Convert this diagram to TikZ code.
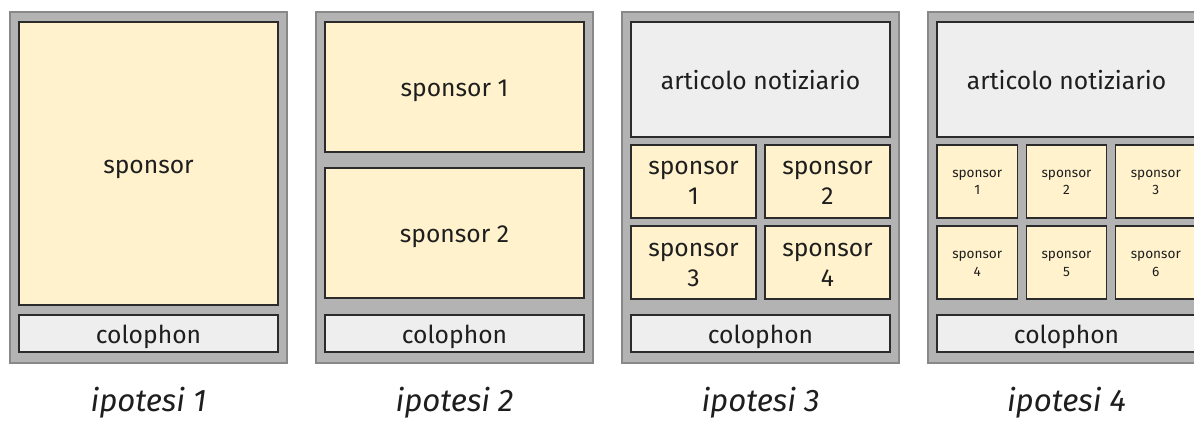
\documentclass[tikz,border=0pt]{standalone}
\usepackage{fontspec}
\setmainfont{Fira Sans}
\definecolor{panelgrey}{HTML}{B3B3B3}
\definecolor{panelline}{HTML}{888888}
\definecolor{boxline}{HTML}{2B2B2B}
\definecolor{sponsorfill}{HTML}{FFF2CC}
\definecolor{greyfill}{HTML}{EEEEEE}
\definecolor{textcol}{HTML}{1E1E1E}
\tikzset{
  boxsize/.style 2 args={minimum width=#1*0.75pt, minimum height=#2*0.75pt},
  panel/.style={draw=panelline, fill=panelgrey, line width=0.9pt, inner sep=0pt, boxsize={277}{351}},
  box/.style={draw=boxline, line width=1.2pt, inner sep=0pt, align=center, text=textcol,
    font=\fontsize{18.5}{22.5}\selectfont, text height=14.7pt, text depth=0pt},
  sponsorbox/.style={box, fill=sponsorfill},
  greybox/.style={box, fill=greyfill},
  twoline/.style={sponsorbox, text height=35.25pt},
  smallbox/.style={sponsorbox, font=\fontsize{10.2}{13}\selectfont, text height=20.25pt},
  caption/.style={text=textcol, font=\fontsize{23.4}{28}\selectfont\itshape},
}
\begin{document}
\begin{tikzpicture}[x=0.75pt, y=-0.75pt]
  \useasboundingbox (0,0) rectangle (1194,427);
  % cornici, colophon e didascalie
  \foreach \x [count=\i] in {10,316,622,928} {
    \node[panel] (panel\i) at (\x+138.5,187.5) {};
    \node[greybox, boxsize={259}{37}] (colophon\i) at (\x+138.5,333.5) {colophon};
    \node[caption] (ipotesi\i) at (\x+138.5,403) {ipotesi \i};
  }
  % ipotesi 1
  \node[sponsorbox, boxsize={259}{283}] (sponsor) at (148.5,163.5) {sponsor};
  % ipotesi 2
  \node[sponsorbox, boxsize={259}{130}] (sponsorA) at (454.5,87) {sponsor 1};
  \node[sponsorbox, boxsize={259}{130}] (sponsorB) at (454.5,233) {sponsor 2};
  % ipotesi 3
  \node[greybox, boxsize={259}{115}] (articolo3) at (760.5,79.5) {articolo notiziario};
  \node[twoline, boxsize={125}{73}] (s31) at (693.5,181.5) {sponsor\\1};
  \node[twoline, boxsize={125}{73}] (s32) at (827.5,181.5) {sponsor\\2};
  \node[twoline, boxsize={125}{73}] (s33) at (693.5,262.75) {sponsor\\3};
  \node[twoline, boxsize={125}{73}] (s34) at (827.5,262.75) {sponsor\\4};
  % ipotesi 4
  \node[greybox, boxsize={259}{115}] (articolo4) at (1066.5,79.5) {articolo notiziario};
  \node[smallbox, boxsize={80.3}{73}] (s41) at (977.2,181.5) {sponsor\\1};
  \node[smallbox, boxsize={80.3}{73}] (s42) at (1066.5,181.5) {sponsor\\2};
  \node[smallbox, boxsize={80.3}{73}] (s43) at (1155.8,181.5) {sponsor\\3};
  \node[smallbox, boxsize={80.3}{73}] (s44) at (977.2,262.75) {sponsor\\4};
  \node[smallbox, boxsize={80.3}{73}] (s45) at (1066.5,262.75) {sponsor\\5};
  \node[smallbox, boxsize={80.3}{73}] (s46) at (1155.8,262.75) {sponsor\\6};
\end{tikzpicture}
\end{document}
